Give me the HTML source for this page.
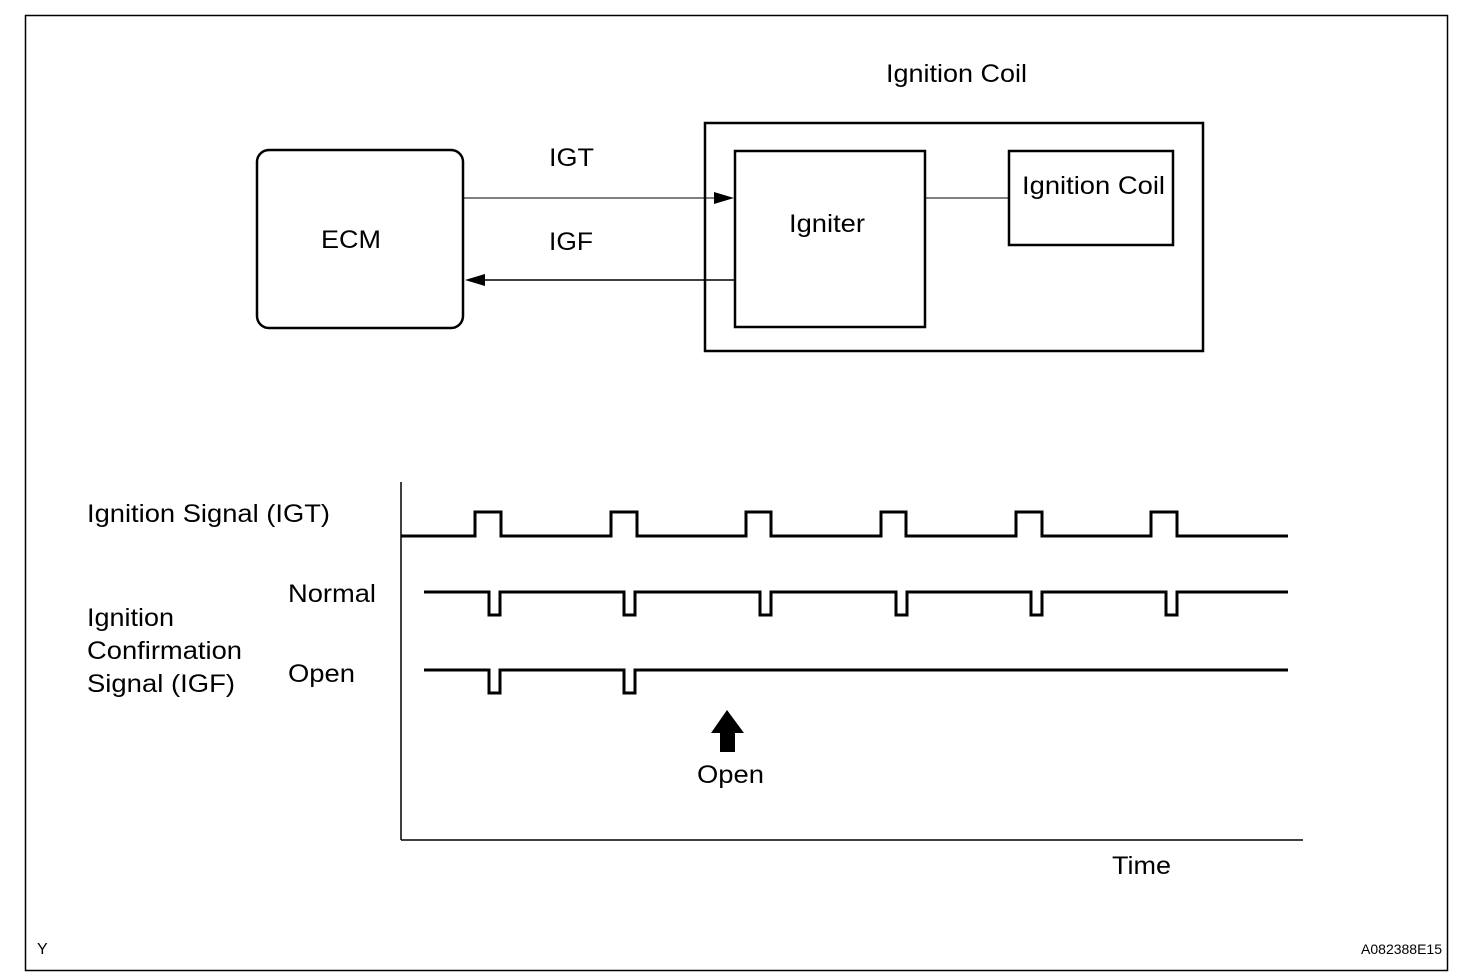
<!DOCTYPE html>
<html><head><style>body{margin:0;background:#fff}svg{display:block}text{font-family:"Liberation Sans",sans-serif;fill:#000}</style></head><body>
<svg width="1472" height="980" xmlns="http://www.w3.org/2000/svg">
<rect x="25.5" y="15.5" width="1422" height="955" fill="none" stroke="#000" stroke-width="1.5"/>
<g font-size="25" lengthAdjust="spacingAndGlyphs">
<text x="886" y="82" textLength="141" lengthAdjust="spacingAndGlyphs">Ignition Coil</text>
<text x="321" y="248" textLength="60" lengthAdjust="spacingAndGlyphs">ECM</text>
<text x="789" y="232" textLength="76" lengthAdjust="spacingAndGlyphs">Igniter</text>
<text x="1022" y="194" textLength="143" lengthAdjust="spacingAndGlyphs">Ignition Coil</text>
<text x="549" y="166" textLength="45" lengthAdjust="spacingAndGlyphs">IGT</text>
<text x="549" y="250" textLength="44" lengthAdjust="spacingAndGlyphs">IGF</text>
<text x="87" y="522" textLength="243" lengthAdjust="spacingAndGlyphs">Ignition Signal (IGT)</text>
<text x="288" y="602" textLength="88" lengthAdjust="spacingAndGlyphs">Normal</text>
<text x="87" y="626" textLength="87" lengthAdjust="spacingAndGlyphs">Ignition</text>
<text x="87" y="659" textLength="155" lengthAdjust="spacingAndGlyphs">Confirmation</text>
<text x="87" y="692" textLength="148" lengthAdjust="spacingAndGlyphs">Signal (IGF)</text>
<text x="288" y="682" textLength="67" lengthAdjust="spacingAndGlyphs">Open</text>
<text x="1112" y="874" textLength="59" lengthAdjust="spacingAndGlyphs">Time</text>
<text x="697" y="783" textLength="67" lengthAdjust="spacingAndGlyphs">Open</text>
</g>
<rect x="257" y="150" width="206" height="178" rx="12" fill="none" stroke="#000" stroke-width="2.5"/>
<rect x="705" y="123" width="498" height="228" fill="none" stroke="#000" stroke-width="2.5"/>
<rect x="735" y="151" width="190" height="176" fill="none" stroke="#000" stroke-width="2.5"/>
<rect x="1009" y="151" width="164" height="94" fill="none" stroke="#000" stroke-width="2.5"/>
<line x1="925" y1="198" x2="1009" y2="198" stroke="#000" stroke-width="1"/>
<line x1="464" y1="198" x2="718" y2="198" stroke="#000" stroke-width="1"/>
<polygon points="734,198 714,192 714,204" fill="#000"/>
<line x1="482" y1="280" x2="735" y2="280" stroke="#000" stroke-width="1.5"/>
<polygon points="465,280 485,274 485,286" fill="#000"/>
<line x1="401" y1="482" x2="401" y2="840" stroke="#000" stroke-width="1.5"/>
<line x1="401" y1="840" x2="1303" y2="840" stroke="#000" stroke-width="1.5"/>
<text x="37" y="954" font-size="16">Y</text>
<text x="1442" y="954" font-size="14" text-anchor="end">A082388E15</text>
<polygon points="727,710 711,733 720,733 720,752 735,752 735,733 744,733" fill="#000"/>
<g fill="none" stroke="#000" stroke-width="3" stroke-linejoin="miter">
<path d="M401,536 H475 V512 H501 V536 H611 V512 H637 V536 H746 V512 H771 V536 H881 V512 H906 V536 H1016 V512 H1042 V536 H1151 V512 H1177 V536 H1288"/>
<path d="M424,592 H489 V615 H500 V592 H624 V615 H635 V592 H760 V615 H771 V592 H896 V615 H907 V592 H1031 V615 H1042 V592 H1166 V615 H1177 V592 H1288"/>
<path d="M424,670 H489 V693 H500 V670 H624 V693 H635 V670 H1288"/>
</g>
</svg>
</body></html>
